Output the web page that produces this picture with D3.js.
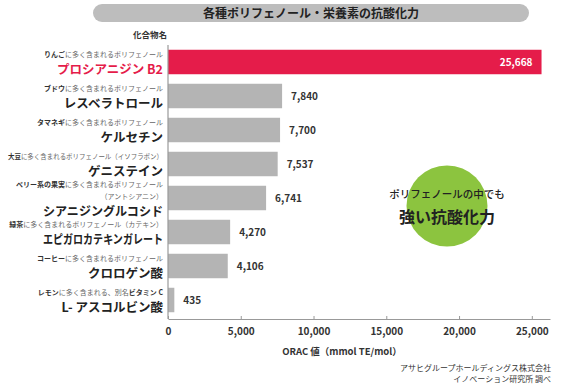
<!DOCTYPE html>
<html>
<head>
<meta charset="utf-8">
<script src="https://cdn.jsdelivr.net/npm/d3@7"></script>
<style>
  body { margin: 0; background: #fff; }
  svg { font-family: "Noto Sans CJK JP", "Noto Sans", sans-serif; }
</style>
</head>
<body>
<svg id="chart" width="585" height="387"></svg>
<script>
// data
const names = ["プロシアニジン B2", "レスベラトロール", "ケルセチン", "ゲニステイン",
  "シアニジングルコシド", "エピガロカテキンガレート", "クロロゲン酸", "L- アスコルビン酸"];
const values = [25668, 7840, 7700, 7537, 6741, 4270, 4106, 435];
// small note above each name: alternating bold / light parts
const notes = [
  ["りんご", "に多く含まれるポリフェノール"],
  ["ブドウ", "に多く含まれるポリフェノール"],
  ["タマネギ", "に多く含まれるポリフェノール"],
  ["大豆", "に多く含まれるポリフェノール（イソフラボン）"],
  ["ベリー系の果実", "に多く含まれるポリフェノール"],
  ["緑茶", "に多く含まれるポリフェノール（カテキン）"],
  ["コーヒー", "に多く含まれるポリフェノール"],
  ["レモン", "に多く含まれる、別名", "ビタミン C", ""]
];
const extraNotes = ["", "", "", "", "（アントシアニン）", "", "", ""];
const xTicks = [0, 5000, 10000, 15000, 20000, 25000];

const svg = d3.select("#chart");
const red = "#e51c4a";

// shrink a text to fit a width if it is wider
function fit(sel, maxW) {
  const w = sel.node().getComputedTextLength();
  if (w > maxW) sel.attr("textLength", maxW).attr("lengthAdjust", "spacingAndGlyphs");
}

// title pill
svg.append("rect")
  .attr("x", 93).attr("y", 4)
  .attr("width", 436).attr("height", 18)
  .attr("rx", 9)
  .attr("fill", "#bdbdbd");
svg.append("text")
  .attr("x", 311).attr("y", 18)
  .attr("text-anchor", "middle")
  .style("font-size", "12px").style("font-weight", "bold")
  .style("fill", "#222")
  .text("各種ポリフェノール・栄養素の抗酸化力");

svg.append("text")
  .attr("x", 150).attr("y", 38)
  .attr("text-anchor", "middle")
  .style("font-size", "8.5px").style("font-weight", "bold")
  .style("fill", "#333")
  .text("化合物名");

const x = d3.scaleLinear().domain([0, 26250]).range([168, 550]);
const y = d3.scaleBand().domain(names).range([45, 317])
  .paddingInner(0.28).paddingOuter(0.14);

// bars
svg.selectAll(".bar")
  .data(names)
  .enter()
  .append("rect")
  .attr("class", "bar")
  .attr("x", x(0))
  .attr("y", (d) => y(d))
  .attr("width", (d, i) => x(values[i]) - x(0))
  .attr("height", y.bandwidth())
  .attr("fill", (d, i) => (i === 0 ? red : "#b4b4b4"));

// value labels
svg.selectAll(".val")
  .data(names)
  .enter()
  .append("text")
  .attr("class", "val")
  .attr("x", (d, i) => (i === 0 ? x(values[i]) - 9 : x(values[i]) + 9))
  .attr("y", (d) => y(d) + y.bandwidth() / 2 + 4)
  .attr("text-anchor", (d, i) => (i === 0 ? "end" : "start"))
  .style("font-size", "10px").style("font-weight", "bold")
  .style("fill", (d, i) => (i === 0 ? "#fff" : "#333"))
  .text((d, i) => d3.format(",")(values[i]));

// category labels
const labelX = 163;
names.forEach((name, i) => {
  const cy = y(name) + y.bandwidth() / 2;
  const hasExtra = extraNotes[i] !== "";
  const note = svg.append("text")
    .attr("x", labelX)
    .attr("y", hasExtra ? cy - 11 : cy - 5.5)
    .attr("text-anchor", "end")
    .style("font-size", "7px");
  notes[i].forEach((part, j) => {
    note.append("tspan")
      .style("font-weight", j % 2 === 0 ? "bold" : "normal")
      .style("fill", j % 2 === 0 ? "#333" : "#666")
      .text(part);
  });
  fit(note, 155);
  if (hasExtra) {
    svg.append("text")
      .attr("x", labelX).attr("y", cy + 0.5)
      .attr("text-anchor", "end")
      .style("font-size", "7px").style("fill", "#666")
      .text(extraNotes[i]);
  }
  const big = svg.append("text")
    .attr("x", labelX)
    .attr("y", hasExtra ? cy + 17.5 : cy + 11.5)
    .attr("text-anchor", "end")
    .style("font-size", "12.5px").style("font-weight", "bold")
    .style("fill", i === 0 ? red : "#222")
    .text(name);
  fit(big, 120);
});

// axes
svg.append("line")
  .attr("x1", x(0)).attr("x2", x(0))
  .attr("y1", 45).attr("y2", 319)
  .attr("stroke", "#999").attr("stroke-width", 1.2);

const xAxis = d3.axisBottom(x)
  .tickValues(xTicks)
  .tickSizeInner(-3)
  .tickSizeOuter(0)
  .tickPadding(9)
  .tickFormat(d3.format(","));

const gx = svg.append("g")
  .attr("transform", "translate(0,319)")
  .call(xAxis);
gx.select(".domain").attr("stroke", "#999").attr("stroke-width", 1.2);
gx.selectAll(".tick line").attr("stroke", "#999");
gx.selectAll("text")
  .style("font-family", "\"Noto Sans CJK JP\", sans-serif")
  .style("font-size", "10px").style("font-weight", "bold")
  .style("fill", "#333");

svg.append("text")
  .attr("x", 342).attr("y", 355)
  .attr("text-anchor", "middle")
  .style("font-size", "9.5px").style("font-weight", "bold")
  .style("fill", "#333")
  .text("ORAC 値（mmol TE/mol）");

// green callout
svg.append("circle")
  .attr("cx", 447).attr("cy", 206).attr("r", 40.5)
  .attr("fill", "#8cc43f");
svg.append("text")
  .attr("x", 447).attr("y", 198)
  .attr("text-anchor", "middle")
  .style("font-size", "10.5px").style("font-weight", "500")
  .style("fill", "#222")
  .text("ポリフェノールの中でも");
svg.append("text")
  .attr("x", 447).attr("y", 223)
  .attr("text-anchor", "middle")
  .style("font-size", "16px").style("font-weight", "bold")
  .style("fill", "#222")
  .text("強い抗酸化力");

// source
svg.append("text")
  .attr("x", 551).attr("y", 371)
  .attr("text-anchor", "end")
  .style("font-size", "8px").style("fill", "#333")
  .text("アサヒグループホールディングス株式会社");
svg.append("text")
  .attr("x", 551).attr("y", 382)
  .attr("text-anchor", "end")
  .style("font-size", "8px").style("fill", "#333")
  .text("イノベーション研究所 調べ");
</script>
</body>
</html>
